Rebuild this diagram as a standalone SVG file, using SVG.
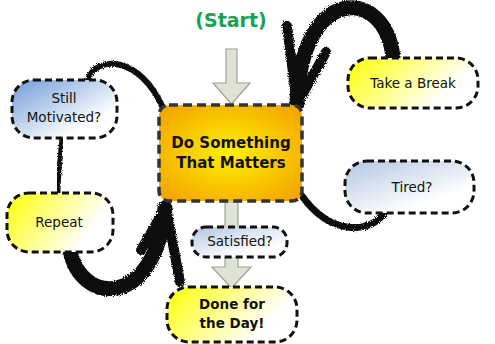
<svg xmlns="http://www.w3.org/2000/svg" width="495" height="344" viewBox="0 0 495 344">
<defs>
<style>
.node{stroke:#111;stroke-width:3;stroke-dasharray:7 4}
.lbl{font-family:"DejaVu Sans","Liberation Sans",sans-serif;font-size:13.5px;fill:#111;text-anchor:middle}
.b{font-weight:bold}
.brush{fill:none;stroke:#111;stroke-linecap:round;filter:url(#rough)}
.garrow{fill:#dfe3d6;stroke:#9ea493;stroke-width:1.2}
</style>
<linearGradient id="gBlue" x1="0" y1="0" x2="1" y2="1">
<stop offset="0" stop-color="#6f9bd8"/><stop offset="0.75" stop-color="#ffffff"/>
</linearGradient>
<linearGradient id="gBlueL" x1="0" y1="0" x2="0.8" y2="1">
<stop offset="0" stop-color="#b3c6e2"/><stop offset="0.8" stop-color="#ffffff"/>
</linearGradient>
<linearGradient id="gYel" x1="0" y1="0.3" x2="1" y2="0.7">
<stop offset="0" stop-color="#ffff20"/><stop offset="0.8" stop-color="#ffffff"/>
</linearGradient>
<radialGradient id="gOr" cx="0.5" cy="0.5" r="0.65">
<stop offset="0" stop-color="#fff200"/><stop offset="1" stop-color="#f3a400"/>
</radialGradient>
<filter id="rough" x="-20%" y="-20%" width="140%" height="140%">
<feTurbulence type="fractalNoise" baseFrequency="0.9" numOctaves="2" result="n"/>
<feDisplacementMap in="SourceGraphic" in2="n" scale="4"/>
</filter>
</defs>
<rect width="495" height="344" fill="#ffffff"/>
<g id="connectors">
<path class="brush" d="M88,80 C95,55 140,55 163,108" stroke-width="6"/>
<path class="brush" d="M62,138 C60,160 58,175 58,193" stroke-width="5"/>
<path class="brush" d="M70,250 C80,305 155,310 165,208" stroke-width="15"/>
<path class="brush" d="M141,250 L166,207 L180,282" stroke-width="10"/>
<path class="brush" d="M385,212 C370,235 330,235 302,196" stroke-width="7"/>
<path class="brush" d="M393,57 C385,-15 300,-15 297,104" stroke-width="15"/>
<path class="brush" d="M287,26 L297,104 L326,52" stroke-width="10"/>
<path class="garrow" d="M226,49 H237 V83 H250 L231.5,104 L213,83 H226 Z"/>
<path class="garrow" d="M225,202 H238 V267 H251 L231.5,288 L212,267 H225 Z"/>
</g>
<g id="start">
<text x="231" y="27" style="font-family:'DejaVu Sans','Liberation Sans',sans-serif;font-size:19px;font-weight:bold;fill:#17a352;text-anchor:middle">(Start)</text>
</g>
<g id="main">
<rect class="node" x="159" y="105" width="143" height="96" rx="10" fill="url(#gOr)" style="stroke:#333;stroke-width:3.5;stroke-dasharray:9 5"/>
<text class="lbl b" x="231" y="148" style="font-size:15px">Do Something</text>
<text class="lbl b" x="231" y="168" style="font-size:15px">That Matters</text>
</g>
<g id="still">
<rect class="node" x="12" y="80" width="105" height="58" rx="22" fill="url(#gBlue)"/>
<text class="lbl" x="64" y="103">Still</text>
<text class="lbl" x="64" y="122">Motivated?</text>
</g>
<g id="repeat">
<rect class="node" x="7" y="193" width="106" height="59" rx="22" fill="url(#gYel)"/>
<text class="lbl" x="59" y="227">Repeat</text>
</g>
<g id="break">
<rect class="node" x="348" y="58" width="130" height="50" rx="22" fill="url(#gYel)"/>
<text class="lbl" x="413" y="88">Take a Break</text>
</g>
<g id="tired">
<rect class="node" x="345" y="161" width="129" height="52" rx="22" fill="url(#gBlueL)"/>
<text class="lbl" x="412" y="192">Tired?</text>
</g>
<g id="satisfied">
<rect class="node" x="192" y="227" width="95" height="30" rx="14" fill="url(#gBlueL)"/>
<text class="lbl" x="240" y="246">Satisfied?</text>
</g>
<g id="done">
<rect class="node" x="167" y="287" width="130" height="55" rx="22" fill="url(#gYel)"/>
<text class="lbl b" x="232" y="309">Done for</text>
<text class="lbl b" x="232" y="328">the Day!</text>
</g>
</svg>
